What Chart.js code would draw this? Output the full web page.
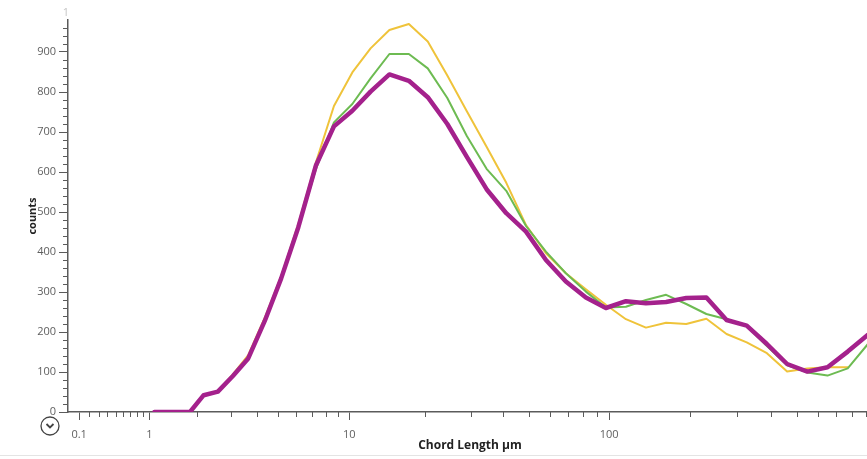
<!DOCTYPE html>
<html>
<head>
<meta charset="utf-8">
<title>Chord length distribution</title>
<script src="https://cdn.jsdelivr.net/npm/chart.js@4/dist/chart.umd.min.js"></script>
<style>
  html, body { margin: 0; padding: 0; background: #ffffff; overflow: hidden; }
  #wrap { width: 872px; height: 459px; position: relative; }
  canvas { display: block; }
</style>
</head>
<body>
<div id="wrap"><canvas id="c" width="872" height="459"></canvas></div>
<script>
// Channel centres (µm), log-spaced bins
const BIN_CENTERS = [1.09, 1.30, 1.54, 1.83, 2.18, 2.59, 3.08, 3.65, 4.35, 5.16,
  6.13, 7.29, 8.66, 10.3, 12.2, 14.5, 17.3, 20.5, 24.4, 29.0,
  34.5, 41.0, 48.7, 57.9, 68.8, 81.8, 97.2, 115.5, 137.2, 163.1,
  193.9, 230.4, 273.8, 325.4, 386.7, 459.6, 546.2, 649.1, 771.4, 916.8];

// Counts per channel
const COUNTS_YELLOW = [0, 0, 0, 0, 42, 52, 94, 142, 235, 340,
  470, 625, 765, 849, 909, 955, 970, 926, 841, 752,
  663, 573, 467, 397, 347, 307, 268, 232, 211, 223,
  220, 233, 195, 174, 147, 101, 109, 112, 112, null];
const COUNTS_GREEN = [0, 0, 0, 0, 42, 51, 90, 136, 228, 334,
  460, 608, 724, 770, 834, 895, 895, 859, 785, 690,
  608, 553, 465, 401, 347, 301, 261, 263, 280, 293,
  270, 245, 232, 215, 165, 117, 99, 91, 109, 170];
const COUNTS_MAGENTA = [0, 0, 0, 0, 42, 51, 90, 134, 227, 334,
  462, 617, 714, 753, 801, 844, 828, 787, 720, 638,
  557, 497, 451, 380, 326, 286, 260, 277, 272, 275,
  285, 286, 230, 216, 170, 120, 101, 112, 151, 193];

// Axis ticks
const X_TICKS = [0.1, 1, 10, 100];
const X_MINOR_TICKS = [0.2, 0.3, 0.4, 0.5, 0.6, 0.7, 0.8, 0.9,
  2, 3, 4, 5, 6, 7, 8, 9, 20, 30, 40, 50, 60, 70, 80, 90,
  200, 300, 400, 500, 600, 700, 800, 900];
const Y_TICKS = [0, 100, 200, 300, 400, 500, 600, 700, 800, 900];
const Y_MINOR_TICKS = [20, 40, 60, 80, 120, 140, 160, 180, 220, 240, 260, 280,
  320, 340, 360, 380, 420, 440, 460, 480, 520, 540, 560, 580, 620, 640, 660, 680,
  720, 740, 760, 780, 820, 840, 860, 880, 920, 940, 960];

const X_MIN = 0, X_MAX = 949;
const Y_MIN = 0, Y_MAX = 980;

const AXIS_COLOR = '#5b5b5b';
const LABEL_COLOR = '#5f5f5f';
const FONT = '"Open Sans", "Noto Sans", sans-serif';

// Scale that maps v -> log10(1 + v), so zero sits on the axis origin
class Log1pScale extends Chart.Scale {
  static id = 'log1p';
  static defaults = {};
  determineDataLimits() {
    const mm = this.getMinMax(true);
    this.min = Number.isFinite(this.options.min) ? this.options.min : Math.max(0, mm.min);
    this.max = Number.isFinite(this.options.max) ? this.options.max : mm.max;
  }
  buildTicks() {
    return X_TICKS.map(v => ({ value: v }));
  }
  getLabelForValue(v) { return String(v); }
  configure() {
    super.configure();
    this._t0 = Math.log10(1 + this.min);
    this._tr = Math.log10(1 + this.max) - this._t0;
  }
  getPixelForValue(v) {
    return this.getPixelForDecimal((Math.log10(1 + v) - this._t0) / this._tr);
  }
  getValueForPixel(p) {
    return Math.pow(10, this._t0 + this.getDecimalForPixel(p) * this._tr) - 1;
  }
}
Chart.register(Log1pScale);

const toPoints = arr => BIN_CENTERS.map((x, i) => ({ x: x, y: arr[i] }));

// Minor tick marks, the collapse button and the footer rule
const decorations = {
  id: 'decorations',
  afterDraw(chart) {
    const { ctx, scales } = chart;
    const xs = scales.x, ys = scales.y;
    ctx.save();
    ctx.strokeStyle = AXIS_COLOR;
    ctx.lineWidth = 1;
    ctx.beginPath();
    X_MINOR_TICKS.forEach(v => {
      const px = Math.round(xs.getPixelForValue(v)) + 0.5;
      ctx.moveTo(px, ys.bottom);
      ctx.lineTo(px, ys.bottom + 5);
    });
    Y_MINOR_TICKS.forEach(v => {
      const py = Math.round(ys.getPixelForValue(v)) + 0.5;
      ctx.moveTo(xs.left - 5, py);
      ctx.lineTo(xs.left, py);
    });
    ctx.stroke();

    // faint label at the top of the value axis
    ctx.fillStyle = '#c4c4c4';
    ctx.font = '11px ' + FONT;
    ctx.textAlign = 'center';
    ctx.textBaseline = 'middle';
    ctx.fillText('1', 66, 13);

    // round collapse button
    ctx.strokeStyle = '#444444';
    ctx.lineWidth = 1.3;
    ctx.beginPath();
    ctx.arc(50, 426, 9, 0, Math.PI * 2);
    ctx.stroke();
    ctx.lineWidth = 1.8;
    ctx.beginPath();
    ctx.moveTo(46.5, 424);
    ctx.lineTo(50, 427.5);
    ctx.lineTo(53.5, 424);
    ctx.stroke();

    // footer rule
    ctx.strokeStyle = '#e4e4e4';
    ctx.lineWidth = 1;
    ctx.beginPath();
    ctx.moveTo(0, 455.5);
    ctx.lineTo(chart.width, 455.5);
    ctx.stroke();
    ctx.restore();
  }
};

new Chart(document.getElementById('c'), {
  type: 'line',
  data: {
    datasets: [
      {
        label: 'Magenta',
        data: toPoints(COUNTS_MAGENTA),
        borderColor: '#a4218c',
        borderWidth: 4.5,
        order: 0
      },
      {
        label: 'Green',
        data: toPoints(COUNTS_GREEN),
        borderColor: '#6dbb52',
        borderWidth: 2,
        order: 1
      },
      {
        label: 'Yellow',
        data: toPoints(COUNTS_YELLOW),
        borderColor: '#efc33a',
        borderWidth: 2,
        order: 2
      }
    ]
  },
  options: {
    responsive: false,
    animation: false,
    devicePixelRatio: 1,
    layout: { padding: { top: 20, right: 0, bottom: 0, left: 0 } },
    elements: {
      point: { radius: 0, hoverRadius: 0 },
      line: { tension: 0, borderJoinStyle: 'round', borderCapStyle: 'round', fill: false }
    },
    plugins: {
      legend: { display: false },
      tooltip: { enabled: false },
      title: { display: false }
    },
    scales: {
      x: {
        type: 'log1p',
        position: 'bottom',
        min: X_MIN,
        max: X_MAX,
        afterFit(s) { s.height = 47; },
        border: { display: true, color: AXIS_COLOR, width: 1.5 },
        grid: { display: true, drawOnChartArea: false, drawTicks: true, tickLength: 8, tickColor: AXIS_COLOR, tickWidth: 1 },
        ticks: {
          autoSkip: false,
          maxRotation: 0,
          padding: 8,
          color: LABEL_COLOR,
          font: { family: FONT, size: 11 }
        },
        title: {
          display: true,
          text: 'Chord Length µm',
          color: '#222222',
          font: { family: FONT, size: 12, weight: 'bold' },
          padding: { top: 0, bottom: 6 }
        }
      },
      y: {
        type: 'linear',
        position: 'left',
        min: Y_MIN,
        max: Y_MAX,
        afterFit(s) { s.width = 68; },
        afterBuildTicks(s) { s.ticks = Y_TICKS.map(v => ({ value: v })); },
        border: { display: true, color: AXIS_COLOR, width: 1.5 },
        grid: { display: true, drawOnChartArea: false, drawTicks: true, tickLength: 9, tickColor: AXIS_COLOR, tickWidth: 1 },
        ticks: {
          autoSkip: false,
          padding: 3,
          color: LABEL_COLOR,
          font: { family: FONT, size: 11 }
        },
        title: {
          display: true,
          text: 'counts',
          color: '#222222',
          font: { family: FONT, size: 11, weight: 'bold' },
          padding: { top: 26, bottom: 0 }
        }
      }
    }
  },
  plugins: [decorations]
});
</script>
</body>
</html>
